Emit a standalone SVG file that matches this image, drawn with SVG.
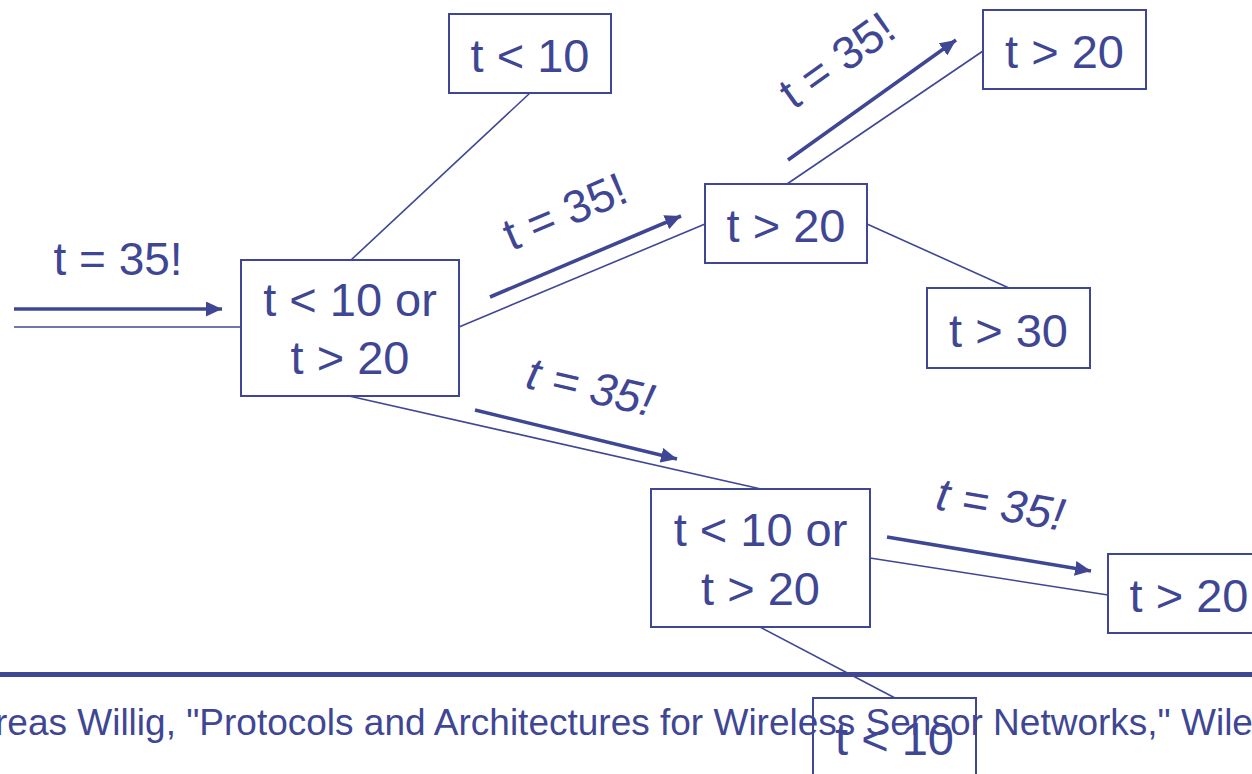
<svg xmlns="http://www.w3.org/2000/svg" width="1252" height="774" viewBox="0 0 1252 774">
<style>
.box{fill:none;stroke:#3f4794;stroke-width:2}
.nt{font-family:"Liberation Sans",Arial,sans-serif;font-size:47px;fill:#3f4794;text-anchor:middle}
.lb{font-family:"Liberation Sans",Arial,sans-serif;font-size:46px;fill:#3f4794;text-anchor:middle}
.it{font-style:italic}
.ln{stroke:#3f4794;stroke-width:1.6;fill:none}
.ar{stroke:#3f4794;stroke-width:3.6;fill:none;marker-end:url(#ah)}
.ft{font-family:"Liberation Sans",Arial,sans-serif;font-size:37px;fill:#3f4794}
</style>
<defs>
<marker id="ah" markerUnits="userSpaceOnUse" markerWidth="17" markerHeight="15" refX="16" refY="7.5" orient="auto">
<path d="M0,0 L16,7.5 L0,15 z" fill="#3f4794"/>
</marker>
</defs>
<rect width="1252" height="774" fill="#ffffff"/>
<g id="connectors">
<line class="ln" x1="14" y1="327" x2="241" y2="327"/>
<line class="ln" x1="351" y1="260" x2="530" y2="93"/>
<line class="ln" x1="459" y1="327" x2="705" y2="224"/>
<line class="ln" x1="787" y1="184" x2="983" y2="51"/>
<line class="ln" x1="867" y1="224" x2="1009" y2="288"/>
<line class="ln" x1="349" y1="396" x2="761" y2="489"/>
<line class="ln" x1="870" y1="558" x2="1108" y2="595"/>
<line class="ln" x1="760" y1="627" x2="895" y2="698"/>
<line class="ar" x1="14" y1="309" x2="222" y2="309"/>
<line class="ar" x1="490" y1="297" x2="681" y2="216"/>
<line class="ar" x1="788" y1="160" x2="956" y2="40"/>
<line class="ar" x1="475" y1="410" x2="677" y2="459"/>
<line class="ar" x1="887" y1="537" x2="1091" y2="571"/>
<text class="lb" x="118" y="275">t = 35!</text>
<text class="lb" transform="translate(571,226) rotate(-23)">t = 35!</text>
<text class="lb" transform="translate(846,73) rotate(-35.5)">t = 35!</text>
<text class="lb it" transform="translate(587,402) rotate(13)">t = 35!</text>
<text class="lb it" transform="translate(998,520) rotate(9.7)">t = 35!</text>
</g>
<g id="footer">
<line x1="0" y1="674.5" x2="1252" y2="674.5" stroke="#3f4794" stroke-width="5"/>
<text class="ft" x="-5" y="735">reas Willig, "Protocols and Architectures for Wireless Sensor Networks," Wile</text>
</g>
<g id="nodeA">
<rect class="box" x="241" y="260" width="218" height="136"/>
<text class="nt" x="350" y="316">t &lt; 10 or</text>
<text class="nt" x="350" y="374">t &gt; 20</text>
</g>
<g id="nodeB">
<rect class="box" x="449" y="14" width="162" height="79"/>
<text class="nt" x="530" y="72">t &lt; 10</text>
</g>
<g id="nodeC">
<rect class="box" x="705" y="184" width="162" height="79"/>
<text class="nt" x="786" y="242">t &gt; 20</text>
</g>
<g id="nodeD">
<rect class="box" x="983" y="10" width="163" height="79"/>
<text class="nt" x="1064.5" y="68">t &gt; 20</text>
</g>
<g id="nodeE">
<rect class="box" x="927" y="288" width="163" height="80"/>
<text class="nt" x="1008.5" y="347">t &gt; 30</text>
</g>
<g id="nodeF">
<rect class="box" x="651" y="489" width="219" height="138"/>
<text class="nt" x="760.5" y="546">t &lt; 10 or</text>
<text class="nt" x="760.5" y="605">t &gt; 20</text>
</g>
<g id="nodeG">
<rect class="box" x="1108" y="554" width="162" height="79"/>
<text class="nt" x="1189" y="612">t &gt; 20</text>
</g>
<g id="nodeH">
<rect class="box" x="813" y="698" width="163" height="80"/>
<text class="nt" x="894.5" y="755">t &lt; 10</text>
</g>
</svg>
